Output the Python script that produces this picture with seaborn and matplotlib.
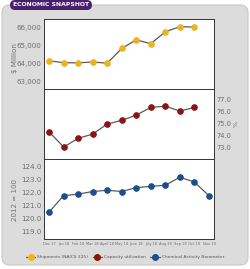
import matplotlib
matplotlib.use("Agg")
import matplotlib.pyplot as plt
from matplotlib.patches import FancyBboxPatch
from matplotlib.lines import Line2D
import seaborn as sns
import pandas as pd

sns.set_style("white")
plt.rcParams['font.family'] = ['DejaVu Sans']

months = ["Dec 17", "Jan 18", "Feb 18", "Mar 18", "April 18", "May 18", "June 18",
          "July 18", "Aug 18", "Sep 18", "Oct 18", "Nov 18"]
shipments = [64150, 64050, 64040, 64090, 64020, 64830, 65300, 65090, 65740, 66020, 66000]
capacity = [74.33, 73.06, 73.78, 74.14, 74.98, 75.28, 75.73, 76.36, 76.47, 76.06, 76.36]
cab = [120.47, 121.73, 121.85, 122.05, 122.15, 122.05, 122.35, 122.45, 122.53, 123.15, 122.78, 121.73]
ship_ticks = [63000, 64000, 65000, 66000]
ship_labels = ["63,000", "64,000", "65,000", "66,000"]
cap_ticks = [73.0, 74.0, 75.0, 76.0, 77.0]
cab_ticks = [119.0, 120.0, 121.0, 122.0, 123.0, 124.0]
series_names = ["Shipments (NAICS 325)", "Capacity utilization", "Chemical Activity Barometer"]

W, H = 250, 269
fig = plt.figure(figsize=(W / 100, H / 100), dpi=100)
fig.patch.set_facecolor("white")

# grey background panel
bg = FancyBboxPatch((2 / W, 1 - 265 / H), 246 / W, 260 / H,
                    boxstyle="round,pad=0,rounding_size=0.03",
                    transform=fig.transFigure, facecolor="#dcdcdc",
                    edgecolor="#c8c8c8", linewidth=0.8, zorder=-2)
fig.patches.append(bg)

# title badge
badge = FancyBboxPatch((10 / W, 1 - 10 / H), 82 / W, 10 / H,
                       boxstyle="round,pad=0,rounding_size=0.02",
                       transform=fig.transFigure, facecolor="#4a1f6e",
                       edgecolor="none", zorder=-1)
fig.patches.append(badge)
fig.text(51 / W, 1 - 5 / H, "ECONOMIC SNAPSHOT", color="white", fontsize=4.4,
         fontweight="bold", ha="center", va="center")

line_col = "#5a5a5a"
colors = ["#f0b21c", "#8c1414", "#1c4f8c"]
tick_col = "#6e6e6e"
x0, x1 = 44 / W, 214 / W

def px_ax(top, bottom):
    a = fig.add_axes([x0, 1 - bottom / H, x1 - x0, (bottom - top) / H])
    a.set_zorder(2)
    return a

ax1 = px_ax(19, 89)
ax2 = px_ax(89, 159)
ax3 = px_ax(159, 239)

df1 = pd.DataFrame({"x": range(len(shipments)), "y": shipments})
df2 = pd.DataFrame({"x": range(len(capacity)), "y": capacity})
df3 = pd.DataFrame({"x": range(len(cab)), "y": cab})

for ax, df, c in [(ax1, df1, colors[0]), (ax2, df2, colors[1]), (ax3, df3, colors[2])]:
    sns.lineplot(data=df, x="x", y="y", ax=ax, color=line_col, linewidth=0.9,
                 marker="o", markersize=4.0, markerfacecolor=c, markeredgecolor=c, zorder=3)
    ax.set_xlim(-0.35, 11.35)
    ax.set_facecolor("white")
    for s in ax.spines.values():
        s.set_color("#333333")
        s.set_linewidth(0.7)
    ax.set_xlabel("")
    ax.set_ylabel("")
    ax.tick_params(length=0, labelsize=5.1, colors=tick_col, pad=2)

ax1.set_ylim(62610, 66440)
ax1.set_yticks(ship_ticks)
ax1.set_yticklabels(ship_labels)
ax1.set_xticks([])

ax2.set_ylim(72.06, 77.9)
ax2.set_yticks(cap_ticks)
ax2.set_yticklabels([f"{v:.1f}" for v in cap_ticks])
ax2.yaxis.tick_right()
ax2.tick_params(axis="y", labelsize=4.8)
ax2.set_xticks([])

ax3.set_ylim(118.4, 124.55)
ax3.set_yticks(cab_ticks)
ax3.set_yticklabels([f"{v:.1f}" for v in cab_ticks])
ax3.set_xticks(range(len(months)))
ax3.set_xticklabels(months, fontsize=2.6)
ax3.tick_params(axis="x", pad=2)

fig.text(15 / W, 1 - 58 / H, "$ Million", rotation=90, fontsize=5.1, color=tick_col,
         ha="center", va="center")
fig.text(15 / W, 1 - 200 / H, "2012 = 100", rotation=90, fontsize=5.1, color=tick_col,
         ha="center", va="center")
fig.text(236 / W, 1 - 124 / H, "%", rotation=90, fontsize=4.6, color=tick_col,
         ha="center", va="center")

handles = [Line2D([0], [0], color=line_col, lw=0.9, marker="o", markersize=4.0,
                  markerfacecolor=c, markeredgecolor=c) for c in colors]
leg = fig.legend(handles, series_names, loc="center", bbox_to_anchor=(125 / W, 1 - 257 / H),
                 ncol=3, frameon=False, fontsize=3.2, handlelength=2.2, columnspacing=1.0,
                 handletextpad=0.4)
for t in leg.get_texts():
    t.set_color("#555555")

fig.savefig("out.png", dpi=100)
